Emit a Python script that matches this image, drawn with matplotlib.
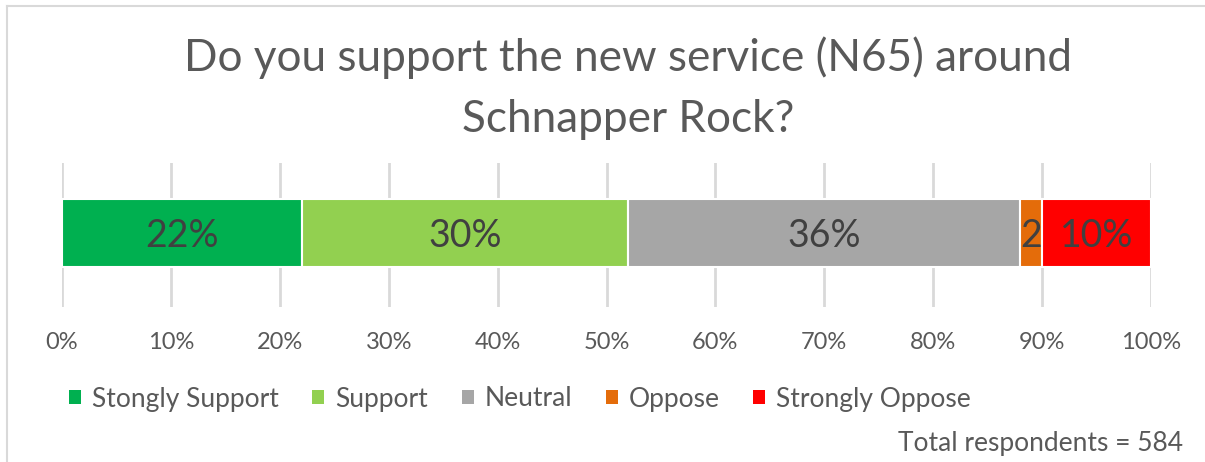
import numpy as np
import matplotlib.pyplot as plt
from matplotlib.patches import Patch
from matplotlib.lines import Line2D

plt.rcParams['font.family'] = ['Lato', 'DejaVu Sans']

categories = ['Stongly Support', 'Support', 'Neutral', 'Oppose', 'Strongly Oppose']
values = [22, 30, 36, 2, 10]
bar_labels = ['22%', '30%', '36%', '2', '10%']
colors = ['#00b050', '#92d050', '#a6a6a6', '#e46c0a', '#ff0000']
ticks = np.arange(0, 101, 10)
tick_labels = [f'{t}%' for t in ticks]
title = 'Do you support the new service (N65) around\nSchnapper Rock?'
note = 'Total respondents = 584'

fig = plt.figure(figsize=(12.05, 4.62), dpi=100)
ax = fig.add_axes([62 / 1205, 1 - 307 / 462, 1089 / 1205, 144 / 462])

left = 0
for v, lab, c in zip(values, bar_labels, colors):
    ax.barh(0, v, left=left, height=0.49, color=c, edgecolor='white', linewidth=1.5, zorder=3)
    ax.text(left + v / 2, -0.02, lab, ha='center', va='center', fontsize=27, color='#404040', zorder=4)
    left += v

ax.set_xlim(0, 100)
ax.set_ylim(-0.53, 0.5)
ax.set_xticks(ticks)
ax.set_xticklabels(tick_labels, fontsize=17, color='#595959')
ax.set_yticks([])
ax.tick_params(axis='x', length=0, pad=18)
ax.grid(axis='x', color='#d9d9d9', linewidth=2, zorder=0)
for s in ax.spines.values():
    s.set_visible(False)

fig.text(0.521, 1 - 88 / 462, title, ha='center', va='center', fontsize=31.8,
         color='#595959', linespacing=1.6)

handles = [Patch(facecolor=c, edgecolor='none') for c in colors]
fig.legend(handles, categories, loc='center', bbox_to_anchor=(520 / 1205, 1 - 399 / 462),
           ncol=5, frameon=False, fontsize=19, handlelength=0.45, handleheight=0.45,
           handletextpad=0.42, columnspacing=1.27, labelcolor='#595959')

fig.text(1183 / 1205, 1 - 443 / 462, note, ha='right', va='center', fontsize=19, color='#595959')

# chart area outline (top and left edges)
fig.add_artist(Line2D([7 / 1205, 7 / 1205], [0, 1 - 6 / 462], transform=fig.transFigure,
                      color='#d9d9d9', linewidth=1.5))
fig.add_artist(Line2D([7 / 1205, 1], [1 - 6 / 462, 1 - 6 / 462], transform=fig.transFigure,
                      color='#d9d9d9', linewidth=1.5))

fig.savefig('out.png', dpi=100, facecolor='white')
